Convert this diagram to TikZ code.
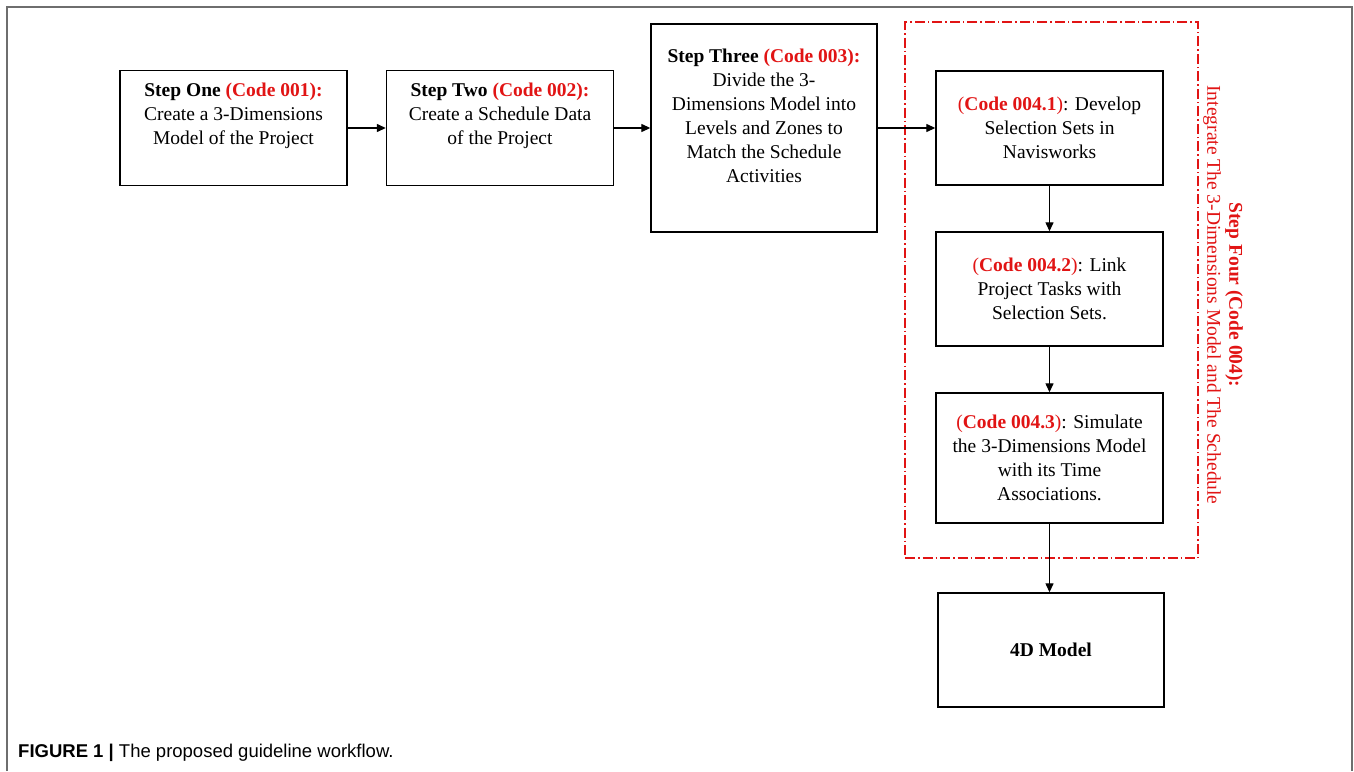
\documentclass[tikz,border=0pt]{standalone}
\usepackage{fontspec}
\setmainfont{Liberation Serif}
\newfontfamily\capfont{Liberation Sans}
\usetikzlibrary{arrows.meta}
\definecolor{codered}{RGB}{225,20,20}
\definecolor{framegray}{RGB}{110,110,110}
\begin{document}
\begin{tikzpicture}[x=1pt,y=-1pt,
  box/.style={draw, line width=1.4pt, minimum width=227pt, minimum height=115pt, inner sep=0pt},
  txt/.style={align=center, font=\fontsize{19.5}{24}\selectfont, inner sep=0pt},
  arr/.style={line width=1.3pt, -{Triangle[length=9pt,width=8pt]}},
  grpbox/.style={draw=codered, line width=1.2pt, dash pattern=on 10pt off 3pt on 1.5pt off 3pt, inner sep=0pt}
]
\useasboundingbox (0,0) rectangle (1354,771);
\draw[framegray, line width=1.5pt] (7,771) -- (7,7) -- (1352,7) -- (1352,771);

% group box
\node[grpbox, minimum width=293pt, minimum height=536pt] (grp) at (1051.5,290) {};

% step boxes
\node[box] (b1) at (233.5,128) {};
\node[txt] (t1) at (233.5,116) {\textbf{Step One} \textcolor{codered}{\textbf{(Code 001):}}\\Create a 3-Dimensions\\Model of the Project};

\node[box] (b2) at (500,128) {};
\node[txt] (t2) at (500,116) {\textbf{Step Two} \textcolor{codered}{\textbf{(Code 002):}}\\Create a Schedule Data\\of the Project};

\node[box, minimum width=226pt, minimum height=208pt] (b3) at (764,128) {};
\node[txt] (t3) at (764,115.5) {\textbf{Step Three} \textcolor{codered}{\textbf{(Code 003):}}\\Divide the 3-\\Dimensions Model into\\Levels and Zones to\\Match the Schedule\\Activities};

\node[box, txt, minimum height=114pt] (b41) at (1049.5,128)
  {\textcolor{codered}{(\textbf{Code 004.1})}: Develop\\Selection Sets in\\Navisworks};
\node[box, txt, minimum height=114pt] (b42) at (1049.5,289)
  {\textcolor{codered}{(\textbf{Code 004.2})}: Link\\Project Tasks with\\Selection Sets.};
\node[box, txt, minimum height=130pt] (b43) at (1049.5,458)
  {\textcolor{codered}{(\textbf{Code 004.3})}: Simulate\\the 3-Dimensions Model\\with its Time\\Associations.};
\node[box, txt, font=\fontsize{19.5}{24}\selectfont\bfseries, minimum width=226pt, minimum height=114pt] (b4d) at (1051,650) {4D Model};

% rotated label
\node[txt, rotate=-90, text=codered, font=\fontsize{19.5}{22}\selectfont] (lab) at (1223,295)
  {\textbf{Step Four (Code 004):}\\Integrate The 3-Dimensions Model and The Schedule};

% connectors
\draw[arr] (b1.east) -- (b2.west);
\draw[arr] (b2.east) -- (b3.west);
\draw[arr] (b3.east) -- (b41.west);
\draw[arr] (b41.south) -- (b42.north);
\draw[arr] (b42.south) -- (b43.north);
\draw[arr] (b43.south) -- (b43.south |- b4d.north);

% caption
\node[anchor=west, inner sep=0pt, font=\capfont\fontsize{18.5}{22}\selectfont] (cap) at (18,753)
  {\textbf{FIGURE 1 |} The proposed guideline workflow.};
\end{tikzpicture}
\end{document}
